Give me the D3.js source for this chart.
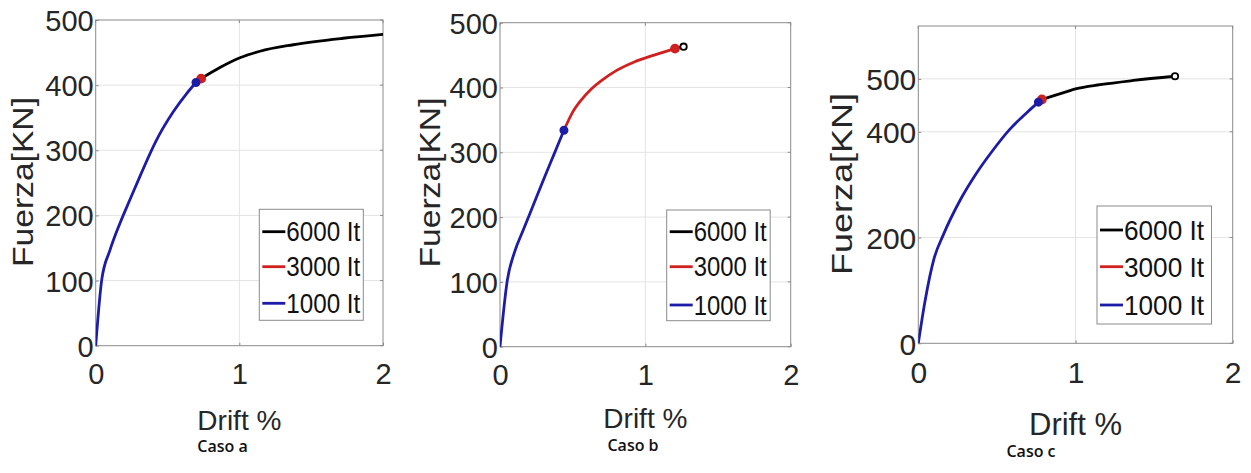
<!DOCTYPE html>
<html>
<head>
<meta charset="utf-8">
<script src="https://cdn.jsdelivr.net/npm/d3@7"></script>
<style>
  html, body { margin: 0; padding: 0; background: #fff; }
  svg { display: block; }
</style>
</head>
<body>
<svg id="chart" width="1251" height="473"></svg>
<script>
// drift % / force kN
var seriesNames = ['6000 It', '3000 It', '1000 It'];
var seriesColors = ['#000000', '#d0201f', '#1c1ca6'];

var casoA_1000 = [[0, 0], [0.042, 101], [0.1, 147], [0.169, 188], [0.238, 224], [0.308, 260], [0.424, 316], [0.54, 359], [0.633, 387], [0.698, 404]];
var casoA_3000 = [[0.698, 404], [0.734, 410]];
var casoA_6000 = [[0.734, 410], [0.865, 427], [1.004, 442], [1.143, 452], [1.375, 462], [1.723, 472], [2.0, 478]];

var casoB_1000 = [[0, 0], [0.05, 102], [0.1, 146], [0.16, 180], [0.23, 219], [0.3, 258], [0.37, 296], [0.44, 334]];
var casoB_3000 = [[0.44, 334], [0.5, 362], [0.56, 381], [0.63, 398], [0.7, 411], [0.8, 426], [0.92, 439], [1.06, 450], [1.204, 460]];
var casoB_6000 = [[1.204, 460], [1.263, 463]];

var casoC_1000 = [[0, 0], [0.043, 80], [0.1, 160], [0.159, 205], [0.265, 270], [0.371, 322], [0.477, 366], [0.583, 405], [0.69, 436], [0.764, 456]];
var casoC_3000 = [[0.764, 456], [0.786, 461]];
var casoC_6000 = [[0.786, 461], [0.944, 476], [1.0, 481], [1.156, 489], [1.368, 497], [1.633, 505]];

var xTicks = [0, 1, 2];
var yTicksAB = [0, 100, 200, 300, 400, 500];
var yTicksC = [0, 200, 400, 500];
var captions = ['Caso a', 'Caso b', 'Caso c'];

var panels = [
  { box: { l: 95.7, r: 383, t: 20, b: 345.7 }, yMax: 500, yTicks: yTicksAB,
    series: [casoA_6000, casoA_3000, casoA_1000], caption: captions[0],
    legend: { x: 259.3, y: 209.3, w: 104, h: 111, textW: 74, rows: [231.7, 266.7, 303.3] },
    yTitleX: 33, yTitleY: 182, xTitleY: 430, captionX: 222.5, captionY: 452, font: 29 },
  { box: { l: 500, r: 790.7, t: 22.7, b: 346.7 }, yMax: 500, yTicks: yTicksAB,
    series: [casoB_6000, casoB_3000, casoB_1000], caption: captions[1],
    legend: { x: 666.7, y: 210, w: 103.5, h: 110.7, textW: 73, rows: [231.7, 266.7, 305] },
    yTitleX: 440, yTitleY: 182.5, xTitleY: 428, captionX: 633, captionY: 451, font: 29 },
  { box: { l: 918.3, r: 1232.7, t: 26, b: 343.3 }, yMax: 600, yTicks: yTicksC,
    series: [casoC_6000, casoC_3000, casoC_1000], caption: captions[2],
    legend: { x: 1097, y: 206, w: 114.5, h: 118, textW: 80, rows: [230, 266.7, 305] },
    yTitleX: 851.5, yTitleY: 184, xTitleY: 435, captionX: 1031, captionY: 457, font: 30 }
];

var svg = d3.select('#chart');
var fontMain = 'Liberation Sans, Arial, Helvetica, sans-serif';
var textColor = '#262626';

panels.forEach(function (p, idx) {
  var x = d3.scaleLinear().domain([0, 2]).range([p.box.l, p.box.r]);
  var y = d3.scaleLinear().domain([0, p.yMax]).range([p.box.b, p.box.t]);
  var g = svg.append('g').attr('class', 'panel');

  var clipId = 'clip' + idx;
  g.append('clipPath').attr('id', clipId)
    .append('rect')
    .attr('x', p.box.l).attr('y', p.box.t)
    .attr('width', p.box.r - p.box.l).attr('height', p.box.b - p.box.t);

  // grid
  g.selectAll('.gx').data(xTicks.slice(1, -1)).enter().append('line')
    .attr('x1', function (d) { return x(d); }).attr('x2', function (d) { return x(d); })
    .attr('y1', p.box.t).attr('y2', p.box.b)
    .attr('stroke', '#e4e4e4').attr('stroke-width', 1);
  g.selectAll('.gy').data(p.yTicks.filter(function (d) { return d > 0 && d < p.yMax; })).enter().append('line')
    .attr('y1', function (d) { return y(d); }).attr('y2', function (d) { return y(d); })
    .attr('x1', p.box.l).attr('x2', p.box.r)
    .attr('stroke', '#e4e4e4').attr('stroke-width', 1);

  // axes via d3 axis, inward ticks
  var xAxis = g.append('g').attr('transform', 'translate(0,' + p.box.b + ')')
    .call(d3.axisBottom(x).tickValues(xTicks).tickFormat(d3.format('d')).tickSize(-3).tickPadding(18));
  var yAxis = g.append('g').attr('transform', 'translate(' + p.box.l + ',0)')
    .call(d3.axisLeft(y).tickValues(p.yTicks).tickFormat(d3.format('d')).tickSize(-3).tickPadding(2));
  [xAxis, yAxis].forEach(function (ax) {
    ax.select('.domain').remove();
    ax.selectAll('line').attr('stroke', '#8a8a8a');
    ax.selectAll('text')
      .attr('fill', textColor)
      .attr('font-size', p.font + 'px')
      .attr('font-family', fontMain);
  });
  xAxis.selectAll('text').attr('dy', '0.71em');
  yAxis.selectAll('text').attr('dy', '0.36em');

  // top and right ticks
  g.selectAll('.tt').data(xTicks).enter().append('line')
    .attr('x1', function (d) { return x(d); }).attr('x2', function (d) { return x(d); })
    .attr('y1', p.box.t).attr('y2', p.box.t + 3)
    .attr('stroke', '#8a8a8a');
  g.selectAll('.rt').data(p.yTicks).enter().append('line')
    .attr('y1', function (d) { return y(d); }).attr('y2', function (d) { return y(d); })
    .attr('x1', p.box.r).attr('x2', p.box.r - 3)
    .attr('stroke', '#8a8a8a');

  // box
  g.append('rect')
    .attr('x', p.box.l).attr('y', p.box.t)
    .attr('width', p.box.r - p.box.l).attr('height', p.box.b - p.box.t)
    .attr('fill', 'none').attr('stroke', '#8a8a8a').attr('stroke-width', 1);

  // curves
  var line = d3.line()
    .x(function (d) { return x(d[0]); })
    .y(function (d) { return y(d[1]); })
    .curve(d3.curveMonotoneX);

  var plot = g.append('g').attr('clip-path', 'url(#' + clipId + ')');
  p.series.forEach(function (s, i) {
    plot.append('path')
      .attr('d', line(s))
      .attr('fill', 'none')
      .attr('stroke', seriesColors[i])
      .attr('stroke-width', 2.8)
      .attr('stroke-linejoin', 'round')
      .attr('stroke-linecap', 'round');
  });

  // end markers
  p.series.forEach(function (s, i) {
    var last = s[s.length - 1];
    if (last[0] >= 2) return;
    var hollow = i === 0;
    plot.append('circle')
      .attr('cx', x(last[0]))
      .attr('cy', y(last[1]))
      .attr('r', hollow ? 3.2 : (i === 1 ? 4 : 3.6))
      .attr('fill', hollow ? '#fff' : seriesColors[i])
      .attr('stroke', seriesColors[i])
      .attr('stroke-width', 1.8);
  });

  // axis titles
  g.append('text')
    .attr('transform', 'translate(' + p.yTitleX + ',' + p.yTitleY + ') rotate(-90)')
    .attr('text-anchor', 'middle')
    .attr('fill', textColor)
    .attr('font-size', (p.font) + 'px')
    .attr('font-family', fontMain)
    .attr('textLength', idx === 2 ? 182 : 170)
    .attr('lengthAdjust', 'spacingAndGlyphs')
    .text('Fuerza[KN]');

  g.append('text')
    .attr('x', x(1))
    .attr('y', p.xTitleY)
    .attr('text-anchor', 'middle')
    .attr('fill', textColor)
    .attr('font-size', (idx === 2 ? 31 : 28) + 'px')
    .attr('font-family', fontMain)
    .text('Drift %');

  g.append('text')
    .attr('x', p.captionX)
    .attr('y', p.captionY)
    .attr('text-anchor', 'middle')
    .attr('fill', '#111')
    .attr('font-size', '16px')
    .attr('font-weight', '600')
    .attr('font-family', 'Open Sans, Lato, sans-serif')
    .text(p.caption);

  // legend
  var lg = g.append('g');
  lg.append('rect')
    .attr('x', p.legend.x).attr('y', p.legend.y)
    .attr('width', p.legend.w).attr('height', p.legend.h)
    .attr('fill', '#fff').attr('stroke', '#8a8a8a').attr('stroke-width', 1);
  seriesNames.forEach(function (name, i) {
    var cy = p.legend.rows[i];
    lg.append('line')
      .attr('x1', p.legend.x + 3).attr('x2', p.legend.x + 26)
      .attr('y1', cy).attr('y2', cy)
      .attr('stroke', seriesColors[i]).attr('stroke-width', 2.8);
    lg.append('text')
      .attr('x', p.legend.x + 27)
      .attr('y', cy)
      .attr('dy', '0.36em')
      .attr('fill', '#111')
      .attr('font-size', (idx === 2 ? 28 : 27) + 'px')
      .attr('font-family', fontMain)
      .attr('textLength', p.legend.textW)
      .attr('lengthAdjust', 'spacingAndGlyphs')
      .text(name);
  });
});
</script>
</body>
</html>
